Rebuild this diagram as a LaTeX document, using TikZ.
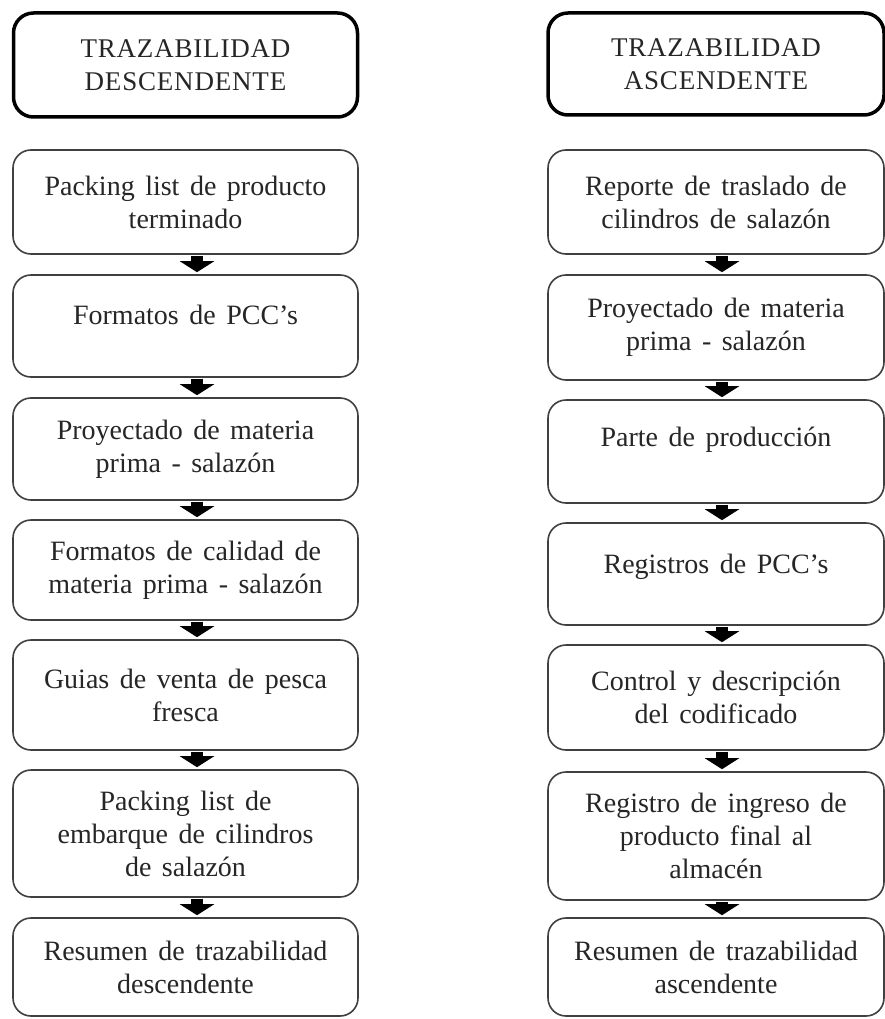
\documentclass[tikz,border=0pt]{standalone}
\usepackage{fontspec}
\setmainfont{Liberation Serif}
\newfontfamily\boxfont[WordSpace=1.5]{Liberation Serif}
\newfontfamily\hdrfont[LetterSpace=3]{Liberation Serif}
\usetikzlibrary{arrows.meta}
\begin{document}
\begin{tikzpicture}[x=1pt,y=-1pt,
  hdr/.style={draw=black, line width=3.5pt, rounded corners=20pt, align=center,
    inner sep=0pt, text=black!85, font=\hdrfont\fontsize{27}{33}\selectfont},
  stepbox/.style={draw=black!75, line width=1.6pt, rounded corners=18pt, align=center,
    inner sep=0pt, text=black!85, font=\boxfont\fontsize{28}{33}\selectfont},
  flow/.style={draw=black, line width=12pt, shorten <=0.8pt, shorten >=2pt,
    -{Triangle[width=34pt,length=11pt]}}
]
\useasboundingbox (0,0) rectangle (885,1019);
\fill[white] (0,0) rectangle (885,1019);

% headers
\node[hdr, minimum width=344, minimum height=104] (HL) at (185.5,65) {TRAZABILIDAD\\DESCENDENTE};
\node[hdr, minimum width=336, minimum height=102] (HR) at (716,64) {TRAZABILIDAD\\ASCENDENTE};

% left column
\node[stepbox, minimum width=345, minimum height=104] (L1) at (185.5,202) {Packing list de producto\\terminado};
\node[stepbox, minimum width=345, minimum height=102] (L2) at (185.5,326) {Formatos de PCC’s\\[-10pt]\mbox{}};
\node[stepbox, minimum width=345, minimum height=102] (L3) at (185.5,449) {Proyectado de materia\\prima - salazón};
\node[stepbox, minimum width=345, minimum height=100] (L4) at (185.5,570) {Formatos de calidad de\\materia prima - salazón};
\node[stepbox, minimum width=345, minimum height=110] (L5) at (185.5,695) {Guias de venta de pesca\\fresca};
\node[stepbox, minimum width=345, minimum height=127] (L6) at (185.5,833.5) {Packing list de\\embarque de cilindros\\de salazón};
\node[stepbox, minimum width=345, minimum height=98] (L7) at (185.5,967) {Resumen de trazabilidad\\descendente};

% right column
\node[stepbox, minimum width=336, minimum height=104] (R1) at (716,202) {Reporte de traslado de\\cilindros de salazón};
\node[stepbox, minimum width=336, minimum height=105] (R2) at (716,327.5) {Proyectado de materia\\prima - salazón};
\node[stepbox, minimum width=336, minimum height=103] (R3) at (716,451.5) {Parte de producción\\[-4pt]\mbox{}};
\node[stepbox, minimum width=336, minimum height=102] (R4) at (716,574) {Registros de PCC’s\\[-12pt]\mbox{}};
\node[stepbox, minimum width=336, minimum height=105] (R5) at (716,697.5) {Control y descripción\\del codificado};
\node[stepbox, minimum width=336, minimum height=128] (R6) at (716,836) {Registro de ingreso de\\producto final al\\almacén};
\node[stepbox, minimum width=336, minimum height=98] (R7) at (716,967) {Resumen de trazabilidad\\ascendente};

% arrows
\foreach \a/\b in {L1/L2,L2/L3,L3/L4,L4/L5,L5/L6,L6/L7}
  \draw[flow] ([xshift=11.5pt]\a.south) -- ([xshift=11.5pt]\b.north);
\foreach \a/\b in {R1/R2,R2/R3,R3/R4,R4/R5,R5/R6,R6/R7}
  \draw[flow] ([xshift=6pt]\a.south) -- ([xshift=6pt]\b.north);
\end{tikzpicture}
\end{document}
